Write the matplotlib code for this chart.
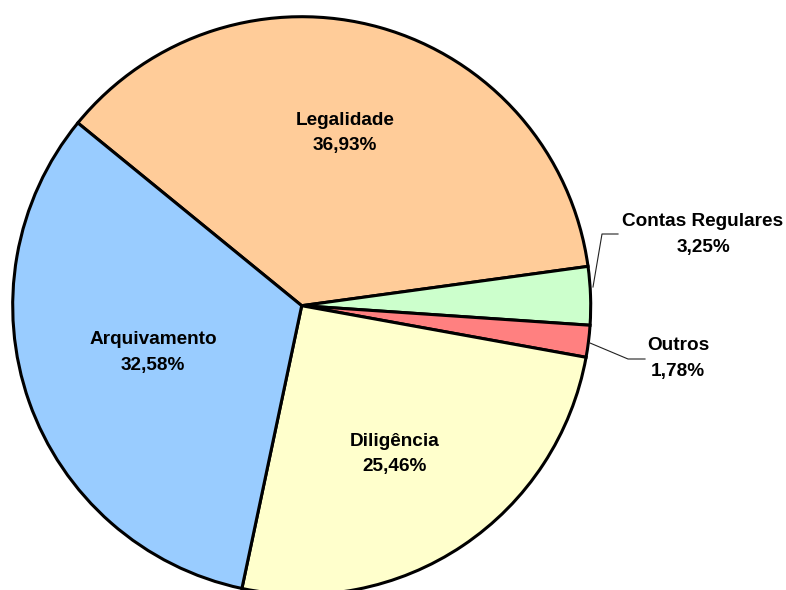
import matplotlib.pyplot as plt

labels = ["Legalidade", "Contas Regulares", "Outros", "Diligência", "Arquivamento"]
shares = [36.93, 3.25, 1.78, 25.46, 32.58]
colors = ["#FFCC99", "#CCFFCC", "#FF8080", "#FFFFCC", "#99CCFF"]

W, H = 786, 590
cx, cy, r = 301.7, H - 305.7, 289

# label block centres (pixel coords from top-left)
text_pos = {
    "Legalidade": (345, 133),
    "Contas Regulares": (703, 234.5),
    "Outros": (678, 358.5),
    "Diligência": (395, 454),
    "Arquivamento": (153, 352.5),
}
leaders = {
    "Contas Regulares": [(593, 287), (602, 234), (618, 234)],
    "Outros": [(590, 343), (628, 359), (645, 359)],
}

plt.rcParams["font.family"] = ["Liberation Sans", "DejaVu Sans"]

fig = plt.figure(figsize=(W / 100, H / 100), dpi=100)
ax = fig.add_axes([0, 0, 1, 1])

ax.pie(shares, colors=colors, startangle=140.77, counterclock=False,
       center=(cx, cy), radius=r, frame=True,
       wedgeprops=dict(edgecolor="black", linewidth=2.2))
ax.set_xlim(0, W)
ax.set_ylim(0, H)
ax.set_aspect("equal")
ax.set_axis_off()

for name, val in zip(labels, shares):
    x, y = text_pos[name]
    txt = f"{name}\n{val:.2f}%".replace(".", ",")
    ax.text(x, H - y, txt, ha="center", va="center", fontsize=13.7,
            fontweight="bold", linespacing=1.62, color="black")

for name, pts in leaders.items():
    xs = [p[0] for p in pts]
    ys = [H - p[1] for p in pts]
    ax.plot(xs, ys, color="#222222", linewidth=0.8)

fig.savefig("out.png", dpi=100)
